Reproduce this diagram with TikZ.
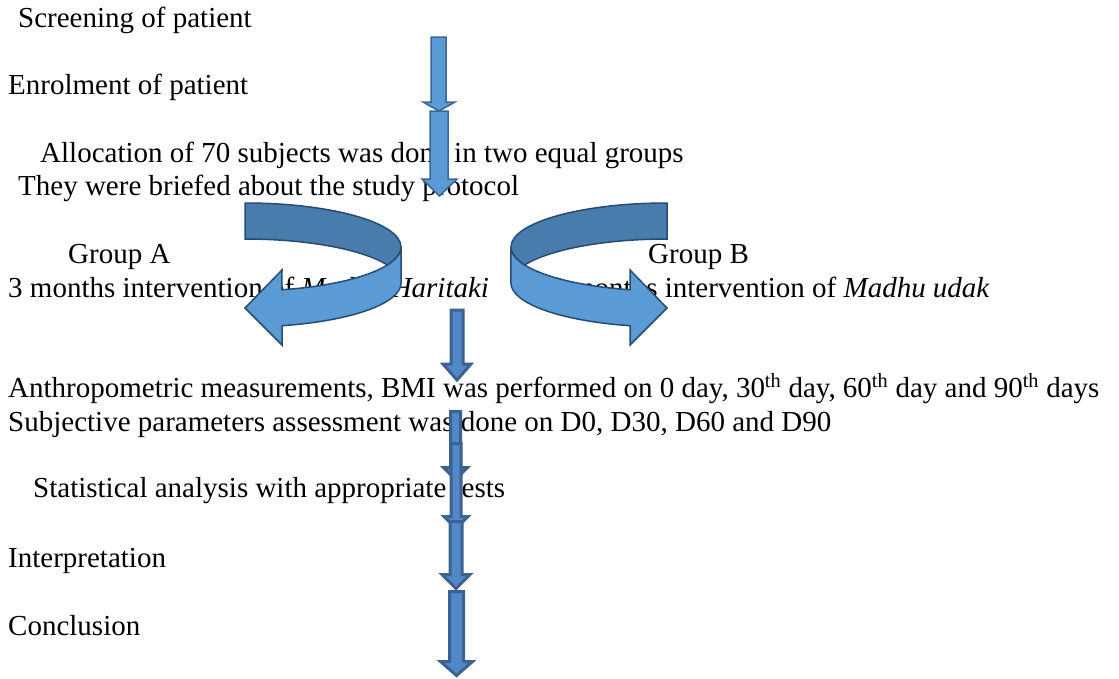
\documentclass[tikz,border=0pt]{standalone}
\usepackage{fontspec}
\setmainfont{Liberation Serif}
\usepackage{tikz}
\usetikzlibrary{positioning}

\definecolor{boxblue}{RGB}{91,155,213}
\definecolor{boxline}{RGB}{58,104,150}
\definecolor{backblue}{RGB}{72,124,172}
\definecolor{ribbonline}{RGB}{38,76,118}
\definecolor{stemblue}{RGB}{82,135,200}
\definecolor{stemline}{RGB}{60,98,145}

\begin{document}
\begin{tikzpicture}[x=1pt, y=-1pt,
    every node/.style={inner sep=0pt, anchor=base west, font=\fontsize{29}{34}\selectfont},
    lightarrow/.style={fill=boxblue, draw=boxline, line width=1.5pt},
    darkarrow/.style={fill=stemblue, draw=stemline, line width=3pt},
    ribbonback/.style={fill=backblue, draw=ribbonline, line width=1.5pt},
    ribbonfront/.style={fill=boxblue, draw=ribbonline, line width=1.5pt}]
    \useasboundingbox (0,0) rectangle (1119,678);

    \node (screen) at (18,27) {Screening of patient};
    \node (enrol) at (8,94) {Enrolment of patient};
    \node (alloc) at (40,162) {Allocation of 70 subjects was done in two equal groups};
    \node (brief) at (18,195) {They were briefed about the study protocol};
    \node (grpA) at (68,263) {Group A};
    \node (intA) at (8,297) {3 months intervention of \textit{Madhu Haritaki}};
    \node (grpB) at (648,263) {Group B};
    \node[anchor=base east] (intB) at (990,297) {3 months intervention of \textit{Madhu udak}};
    \node (anthro) at (8,397) {Anthropometric measurements, BMI was performed on 0 day, 30\textsuperscript{th} day, 60\textsuperscript{th} day and 90\textsuperscript{th} days};
    \node (subj) at (8,431) {Subjective parameters assessment was done on D0, D30, D60 and D90};
    \node (stat) at (33,497) {Statistical analysis with appropriate tests};
    \node (interp) at (8,567) {Interpretation};
    \node (concl) at (8,635) {Conclusion};

    % screening -> enrolment -> allocation
    \draw[lightarrow] (431,37) -- ++(15,0) -- ++(0,65) -- ++(9,0) -- ++(-16,9) -- ++(-16,-9) -- ++(8,0) -- cycle;
    \draw[lightarrow] (430,111) -- ++(18,0) -- ++(0,68) -- ++(9,0) -- ++(-17.5,17) -- ++(-17.5,-17) -- ++(8,0) -- cycle;

    % group A
    \draw[ribbonback] (245,203) arc[start angle=-90, end angle=0, x radius=156, y radius=44] -- ++(0,36) arc[start angle=0, end angle=-90, x radius=156, y radius=44] -- cycle;
    \draw[ribbonfront] (401,247) arc[start angle=0, end angle=76.3, x radius=156, y radius=44] -- (282,270) -- (245,308) -- (282,345) -- (282,325.7) arc[start angle=76.3, end angle=0, x radius=156, y radius=44] -- cycle;

    % group B
    \draw[ribbonback] (667,203) arc[start angle=-90, end angle=-180, x radius=156, y radius=44] -- ++(0,36) arc[start angle=180, end angle=270, x radius=156, y radius=44] -- cycle;
    \draw[ribbonfront] (511,247) arc[start angle=180, end angle=103.7, x radius=156, y radius=44] -- (630,270) -- (667,308) -- (630,345) -- (630,325.7) arc[start angle=103.7, end angle=180, x radius=156, y radius=44] -- cycle;

    % down to the end
    \draw[darkarrow] (451,310) -- ++(12,0) -- ++(0,54) -- ++(8,0) -- ++(-14,16) -- ++(-14,-16) -- ++(8,0) -- cycle;
    \draw[darkarrow] (450.5,411.5) -- ++(10,0) -- ++(0,56) -- ++(7,0) -- ++(-12,12) -- ++(-12,-12) -- ++(7,0) -- cycle;
    \draw[darkarrow] (451,443.5) -- ++(10,0) -- ++(0,73) -- ++(7,0) -- ++(-12,12) -- ++(-12,-12) -- ++(7,0) -- cycle;
    \draw[darkarrow] (450,521.5) -- ++(12,0) -- ++(0,53) -- ++(8,0) -- ++(-14,14) -- ++(-14,-14) -- ++(8,0) -- cycle;
    \draw[darkarrow] (449.5,591.5) -- ++(14,0) -- ++(0,70) -- ++(9,0) -- ++(-16,14) -- ++(-16,-14) -- ++(9,0) -- cycle;
\end{tikzpicture}
\end{document}
